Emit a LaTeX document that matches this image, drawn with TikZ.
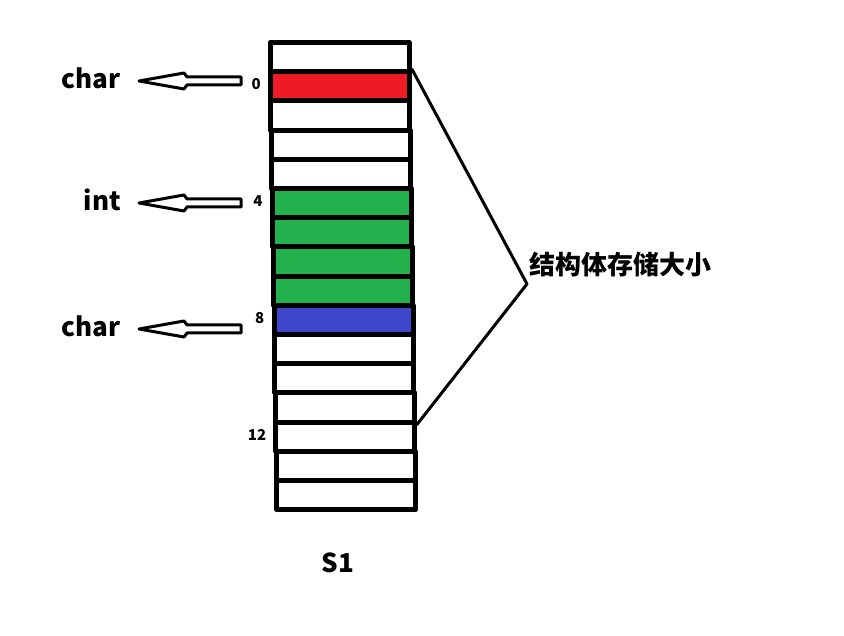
\documentclass[tikz,border=0pt]{standalone}
\usepackage{fontspec}
\setmainfont{Noto Sans CJK SC}
\usetikzlibrary{positioning}
\definecolor{cred}{HTML}{ED1C24}
\definecolor{cgreen}{HTML}{22B14C}
\definecolor{cblue}{HTML}{3F48CC}
\begin{document}
\begin{tikzpicture}[x=1pt,y=-1pt,line join=round,line cap=round]
	\tikzset{cell/.style={draw,line width=5pt,minimum width=139pt,minimum height=29.2pt,inner sep=0pt},
		lbl/.style={font=\bfseries\fontsize{26}{26}\selectfont,inner sep=0pt},
		ofs/.style={font=\bfseries\fontsize{15}{15}\selectfont,inner sep=0pt},
		hollow/.style={draw,line width=3pt,fill=white}}
	\useasboundingbox (0,0) rectangle (844,636);
	% memory cells
	\foreach \i/\c in {0/white,1/cred,2/white,3/white,4/white,5/cgreen,6/cgreen,7/cgreen,8/cgreen,9/cblue,10/white,11/white,12/white,13/white,14/white,15/white}
	\node[cell,fill=\c] (c\i) at ({339.5+0.45*\i},{42.5+29.2*(\i+0.5)}) {};
	% offsets
	\foreach \i/\n in {1/0,5/4,9/8,13/12}
	\node[ofs,left=7pt of c\i.west,yshift=2pt] (o\n) {\n};
	% member types and arrows
	\foreach \m/\t/\y in {a/char/81,b/int/203,c/char/329}{
		\coordinate (p\m) at (139,\y);
		\node[lbl,left=18pt of p\m,yshift=3pt] (t\m) {\t};
		\draw[hollow] (p\m) -- ++(45,-8) -- ++(3,4) -- ++(54,0) -- ++(0,8) -- ++(-54,0) -- ++(-3,4) -- cycle;
	}
	% size bracket
	\coordinate (k) at (527,284);
	\draw[line width=3pt] (c1.north east) -- (k) -- (c12.south east);
	\node[lbl,anchor=west] (size) at (529,265) {结构体存储大小};
	\node[lbl] (s1) at (338,563) {S1};
\end{tikzpicture}
\end{document}
